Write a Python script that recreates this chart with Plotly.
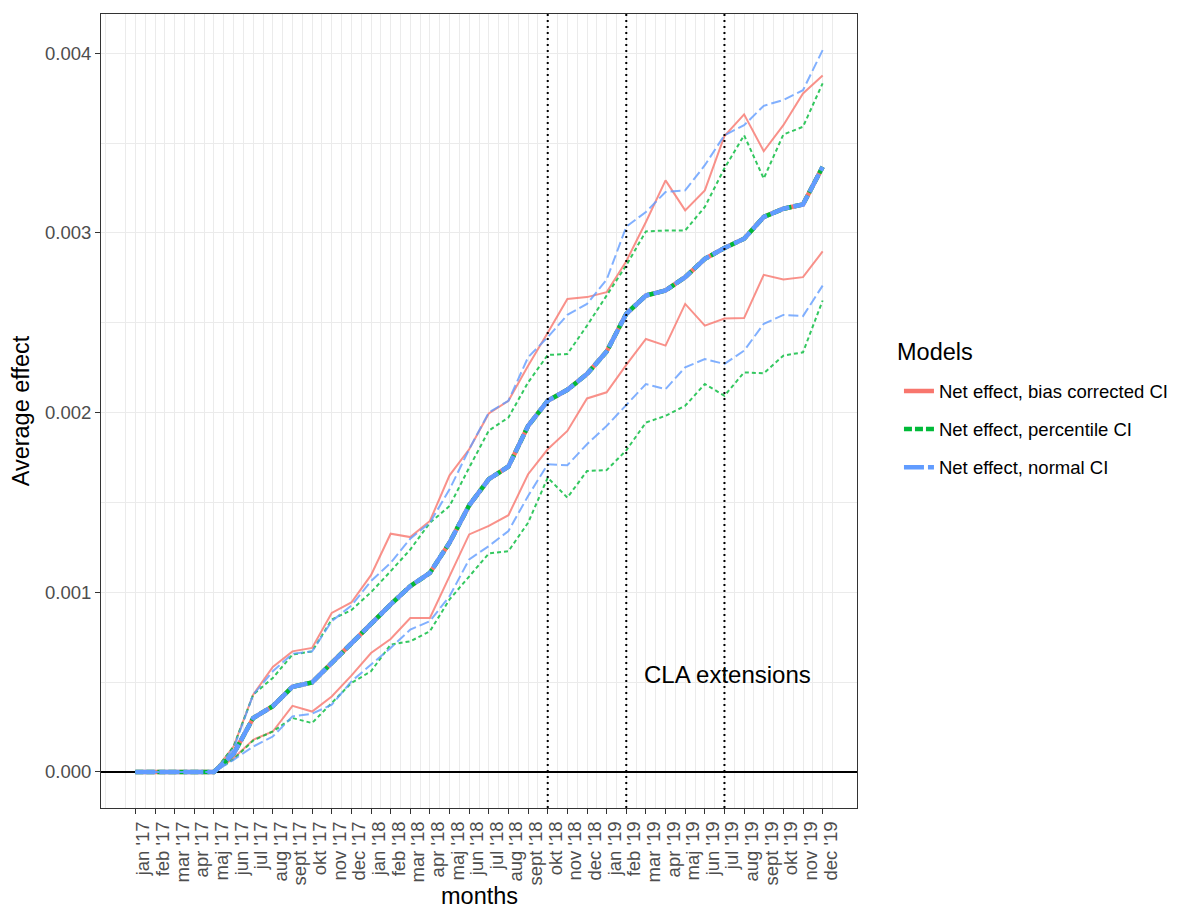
import plotly.graph_objects as go

# ---------------- data ----------------
months = ["jan '17", "feb '17", "mar '17", "apr '17", "maj '17", "jun '17",
          "jul '17", "aug '17", "sept '17", "okt '17", "nov '17", "dec '17",
          "jan '18", "feb '18", "mar '18", "apr '18", "maj '18", "jun '18",
          "jul '18", "aug '18", "sept '18", "okt '18", "nov '18", "dec '18",
          "jan '19", "feb '19", "mar '19", "apr '19", "maj '19", "jun '19",
          "jul '19", "aug '19", "sept '19", "okt '19", "nov '19", "dec '19"]

estimate = [0, 0, 0, 0, 0, 0.000100, 0.000300, 0.000366, 0.000474, 0.000498,
            0.000606, 0.000720, 0.000826, 0.000932, 0.001034, 0.001108, 0.001276,
            0.001484, 0.001630, 0.001700, 0.001926, 0.002066, 0.002127, 0.002215,
            0.002340, 0.002550, 0.002652, 0.002680, 0.002754, 0.002856, 0.002916,
            0.002968, 0.003089, 0.003135, 0.003159, 0.003368]

bias_upper = [0, 0, 0, 0, 0, 0.000141, 0.000430, 0.000584, 0.000671, 0.000690,
              0.000885, 0.000943, 0.001095, 0.001326, 0.001307, 0.001397, 0.001651,
              0.001796, 0.001995, 0.002066, 0.002261, 0.002444, 0.002633, 0.002643,
              0.002670, 0.002843, 0.003061, 0.003293, 0.003126, 0.003237, 0.003540,
              0.003660, 0.003455, 0.003600, 0.003777, 0.003876]
bias_lower = [0, 0, 0, 0, 0, 0.000076, 0.000179, 0.000225, 0.000368, 0.000336,
              0.000420, 0.000536, 0.000662, 0.000740, 0.000857, 0.000857, 0.001090,
              0.001322, 0.001369, 0.001429, 0.001657, 0.001796, 0.001898, 0.002079,
              0.002113, 0.002266, 0.002410, 0.002373, 0.002605, 0.002484, 0.002524,
              0.002526, 0.002767, 0.002741, 0.002754, 0.002897]

pct_upper = [0, 0, 0, 0, 0, 0.000141, 0.000430, 0.000523, 0.000653, 0.000671,
             0.000848, 0.000900, 0.001000, 0.001117, 0.001238, 0.001387, 0.001480,
             0.001694, 0.001900, 0.001973, 0.002168, 0.002321, 0.002326, 0.002484,
             0.002652, 0.002820, 0.003009, 0.003014, 0.003014, 0.003145, 0.003360,
             0.003544, 0.003303, 0.003548, 0.003591, 0.003833]
pct_lower = [0, 0, 0, 0, 0, 0.000070, 0.000175, 0.000225, 0.000300, 0.000272,
             0.000383, 0.000495, 0.000560, 0.000709, 0.000727, 0.000783, 0.000960,
             0.001090, 0.001216, 0.001229, 0.001387, 0.001638, 0.001527, 0.001675,
             0.001680, 0.001790, 0.001945, 0.001982, 0.002038, 0.002159, 0.002094,
             0.002224, 0.002219, 0.002317, 0.002336, 0.002624]

norm_upper = [0, 0, 0, 0, 0, 0.000130, 0.000430, 0.000560, 0.000658, 0.000671,
              0.000839, 0.000926, 0.001062, 0.001164, 0.001298, 0.001387, 0.001573,
              0.001796, 0.002001, 0.002066, 0.002308, 0.002420, 0.002544, 0.002605,
              0.002740, 0.003035, 0.003117, 0.003228, 0.003237, 0.003377, 0.003544,
              0.003600, 0.003708, 0.003740, 0.003795, 0.004018]
norm_lower = [0, 0, 0, 0, 0, 0.000067, 0.000141, 0.000197, 0.000309, 0.000324,
              0.000374, 0.000504, 0.000597, 0.000690, 0.000792, 0.000839, 0.000978,
              0.001183, 0.001257, 0.001341, 0.001536, 0.001713, 0.001707, 0.001824,
              0.001926, 0.002043, 0.002159, 0.002131, 0.002252, 0.002298, 0.002271,
              0.002345, 0.002494, 0.002544, 0.002537, 0.002707]

model_names = ["Net effect, bias corrected CI", "Net effect, percentile CI", "Net effect, normal CI"]
legend_title = "Models"
x_title = "months"
cla_months = ["okt '18", "feb '19", "jul '19"]
y_ticks = [0, 0.001, 0.002, 0.003, 0.004]
y_tick_labels = ["0.000", "0.001", "0.002", "0.003", "0.004"]
y_minor = [0.0005, 0.0015, 0.0025, 0.0035]

# ---------------- figure ----------------
x = list(range(len(months)))
FONT = "Arial, Liberation Sans, sans-serif"
TICK = 18.5
TITLE = 23.5

styles = [
    dict(col="#F8766D", ci="rgba(248,118,109,0.8)", dash_c="solid", dash_ci="solid"),
    dict(col="#00BA38", ci="rgba(0,186,56,0.8)", dash_c="8px,3px", dash_ci="4px,3px"),
    dict(col="#619CFF", ci="rgba(97,156,255,0.8)", dash_c="20px,4px", dash_ci="10px,4px"),
]
cis = [(bias_upper, bias_lower), (pct_upper, pct_lower), (norm_upper, norm_lower)]

fig = go.Figure()
for name, st, (up, lo) in zip(model_names, styles, cis):
    for series in (up, lo):
        fig.add_trace(go.Scatter(x=x, y=series, mode="lines", legendgroup=name,
                                 showlegend=False, hoverinfo="skip",
                                 line=dict(color=st["ci"], width=2, dash=st["dash_ci"])))
    fig.add_trace(go.Scatter(x=x, y=estimate, mode="lines", name=name, legendgroup=name,
                             line=dict(color=st["col"], width=4.5, dash=st["dash_c"])))

shapes = []
for m in cla_months:
    xi = months.index(m)
    shapes.append(dict(type="line", xref="x", yref="paper", x0=xi, x1=xi, y0=0, y1=1,
                       line=dict(color="black", width=2, dash="2px,4px"), layer="above"))

n = len(months)
pad = 0.05 * (n - 1)
ymax = max(norm_upper)
ypad = 0.05 * ymax

fig.update_layout(
    width=1172, height=904,
    paper_bgcolor="white", plot_bgcolor="white",
    margin=dict(l=93, r=323, t=6, b=104),
    font=dict(family=FONT, color="black"),
    shapes=shapes,
    annotations=[
        dict(x=30.15, y=0.00054, xref="x", yref="y", text="CLA extensions",
             showarrow=False, font=dict(size=24, color="black", family=FONT)),
        dict(x=1.0503, y=0.5743, xref="paper", yref="paper", text=legend_title,
             xanchor="left", yanchor="middle", showarrow=False,
             font=dict(size=TITLE, color="black", family=FONT)),
        dict(x=0.5, y=-0.111, xref="paper", yref="paper", text=x_title,
             xanchor="center", yanchor="middle", showarrow=False,
             font=dict(size=TITLE, color="black", family=FONT)),
    ],
    legend=dict(x=1.0555, xanchor="left", y=0.4767, yanchor="middle",
                font=dict(size=TICK, color="black"), tracegroupgap=11,
                bgcolor="rgba(0,0,0,0)"),
    xaxis=dict(range=[-pad, n - 1 + pad], tickmode="array", tickvals=x, ticktext=months,
               tickangle=-90, ticklabelshift=8, automargin=False,
               tickfont=dict(size=TICK, color="#4D4D4D"),
               ticks="outside", ticklen=5, tickcolor="#333333", tickwidth=1,
               showgrid=True, gridcolor="#EBEBEB", gridwidth=1.2,
               minor=dict(tickvals=[i + 0.5 for i in range(-2, n)], showgrid=True,
                          gridcolor="#EBEBEB", gridwidth=0.8, ticks=""),
               showline=True, mirror=True, linecolor="#333333", linewidth=1,
               zeroline=False),
    yaxis=dict(range=[-ypad, ymax + ypad], tickmode="array", tickvals=y_ticks,
               ticktext=y_tick_labels, tickfont=dict(size=TICK, color="#4D4D4D"),
               ticks="outside", ticklen=5, tickcolor="#333333", tickwidth=1,
               showgrid=True, gridcolor="#EBEBEB", gridwidth=1.2,
               minor=dict(tickvals=y_minor, showgrid=True, gridcolor="#EBEBEB",
                          gridwidth=0.8, ticks=""),
               showline=True, mirror=True, linecolor="#333333", linewidth=1,
               zeroline=True, zerolinecolor="black", zerolinewidth=2,
               title=dict(text="Average effect", font=dict(size=TITLE, color="black"), standoff=8)),
)

fig.write_html("out.html")
